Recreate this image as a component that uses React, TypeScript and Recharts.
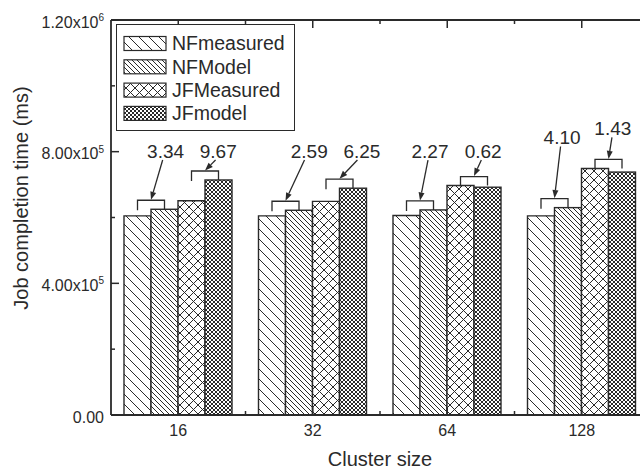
import React from 'react';
import { BarChart, Bar, XAxis, YAxis, Legend, ReferenceLine } from 'recharts';

// ---- data ----
const clusterSizes = ['16', '32', '64', '128'];
const nfMeasured = [605000, 605000, 606000, 605000];
const nfModel = [625000, 622000, 623000, 630000];
const jfMeasured = [651000, 649000, 697000, 749000];
const jfModel = [714000, 689000, 692000, 738000];
const nfErrorLabels = ['3.34', '2.59', '2.27', '4.10'];
const jfErrorLabels = ['9.67', '6.25', '0.62', '1.43'];
// value level (data units) where each error label sits
const nfLabelLevel = [802000, 802000, 802000, 843000];
const jfLabelLevel = [802000, 802000, 802000, 871000];
// horizontal shift of each error label, in bar widths
const nfLabelShift = [0.54, 0.88, 0.37, 0.28];
const jfLabelShift = [0.49, 0.83, 0.34, 0.16];
const yTicks = [0, 200000, 400000, 600000, 800000, 1000000, 1200000];
const seriesNames = ['NFmeasured', 'NFModel', 'JFMeasured', 'JFmodel'];

const data = clusterSizes.map((s, i) => ({
  size: s,
  NFmeasured: nfMeasured[i],
  NFModel: nfModel[i],
  JFMeasured: jfMeasured[i],
  JFmodel: jfModel[i],
}));

// ---- layout ----
const W = 660;
const H = 471;
const M_TOP = 20;
const M_RIGHT = 11;
const Y_AXIS_W = 111;
const X_AXIS_H = 56;
const PLOT_W = W - Y_AXIS_W - M_RIGHT;
const BAND = PLOT_W / clusterSizes.length;
const INK = '#2a2a2a';
const FONT = '"Liberation Sans", Arial, sans-serif';

const patternSpecs = [
  { key: 'NFmeasured', p: 10, cross: false },
  { key: 'NFModel', p: 5, cross: false },
  { key: 'JFMeasured', p: 9, cross: true },
  { key: 'JFmodel', p: 4, cross: true },
];

const Patterns = ({ prefix }: { prefix: string }) => (
  <defs>
    {patternSpecs.map((s) => {
      const p = s.p;
      return (
        <pattern key={s.key} id={prefix + s.key} patternUnits="userSpaceOnUse" width={p} height={p}>
          <rect width={p} height={p} fill="#fff" />
          <path
            d={`M0,0L${p},${p}M-1,${p - 1}L1,${p + 1}M${p - 1},-1L${p + 1},1`}
            stroke={INK}
            strokeWidth={1}
            fill="none"
          />
          {s.cross && (
            <path
              d={`M0,${p}L${p},0M-1,1L1,-1M${p - 1},${p + 1}L${p + 1},${p - 1}`}
              stroke={INK}
              strokeWidth={1}
              fill="none"
            />
          )}
        </pattern>
      );
    })}
  </defs>
);

const Arrow = ({ sx, sy, ex, ey }: { sx: number; sy: number; ex: number; ey: number }) => {
  const dx = ex - sx;
  const dy = ey - sy;
  const len = Math.hypot(dx, dy) || 1;
  const ux = dx / len;
  const uy = dy / len;
  const hl = 8;
  const hw = 3;
  const bx = ex - ux * hl;
  const by = ey - uy * hl;
  const pts = `${ex},${ey} ${bx - uy * hw},${by + ux * hw} ${bx + uy * hw},${by - ux * hw}`;
  return (
    <g>
      <line x1={sx} y1={sy} x2={bx} y2={by} stroke={INK} strokeWidth={1.3} />
      <polygon points={pts} fill={INK} />
    </g>
  );
};

function annotatedShape(
  pairVals: number[],
  ownVals: number[],
  texts: string[],
  levels: number[],
  shifts: number[]
) {
  return (props: any) => {
    const { x, y, width, height, index, fill, stroke, strokeWidth } = props;
    const rect = (
      <rect x={x} y={y} width={width} height={height} fill={fill} stroke={stroke} strokeWidth={strokeWidth} />
    );
    const v = ownVals[index];
    if (!height || !v) return rect;
    const bottom = y + height;
    const k = height / v;
    const otherTop = bottom - pairVals[index] * k;
    const top = Math.min(y, otherTop);
    const bY = top - 9;
    const cx = x;
    const x1 = x - width / 2;
    const x2 = x + width / 2;
    const tx = cx + shifts[index] * width;
    const tcy = bottom - levels[index] * k;
    return (
      <g>
        {rect}
        <path
          d={`M${x1},${bY + 10}L${x1},${bY}L${x2},${bY}L${x2},${bY + 9}`}
          stroke={INK}
          strokeWidth={1.3}
          fill="none"
        />
        <Arrow sx={tx + (cx - tx) * 0.2} sy={tcy + 9} ex={cx} ey={bY - 0.5} />
        <text x={tx} y={tcy + 6.7} textAnchor="middle" fontSize={19} fontFamily={FONT} fill={INK}>
          {texts[index]}
        </text>
      </g>
    );
  };
}

const nfModelShape = annotatedShape(nfMeasured, nfModel, nfErrorLabels, nfLabelLevel, nfLabelShift);
const jfModelShape = annotatedShape(jfMeasured, jfModel, jfErrorLabels, jfLabelLevel, jfLabelShift);

const XTick = (props: any) => {
  const { x, y, payload, index } = props;
  const left = x - BAND / 2;
  return (
    <g>
      <line x1={x} y1={y} x2={x} y2={y - 8} stroke={INK} strokeWidth={1.5} />
      {index > 0 && <line x1={left} y1={y} x2={left} y2={y - 4} stroke={INK} strokeWidth={1.5} />}
      <line x1={x} y1={M_TOP} x2={x} y2={M_TOP + 8} stroke={INK} strokeWidth={1.5} />
      {index > 0 && <line x1={left} y1={M_TOP} x2={left} y2={M_TOP + 4} stroke={INK} strokeWidth={1.5} />}
      <text x={x} y={y + 20.7} textAnchor="middle" fontSize={16} fontFamily={FONT} fill={INK}>
        {payload.value}
      </text>
    </g>
  );
};

const YTick = (props: any) => {
  const { x, y, payload } = props;
  const v = payload.value as number;
  const major = v % 400000 === 0;
  let main = '0.00';
  let sup = '';
  if (v > 0) {
    const e = Math.floor(Math.log10(v));
    main = (v / Math.pow(10, e)).toFixed(2) + 'x10';
    sup = String(e);
  }
  return (
    <g>
      <line x1={x} y1={y} x2={x + (major ? 8 : 4)} y2={y} stroke={INK} strokeWidth={1.5} />
      {major && (
        <text x={x - 7} y={y + 7.5} textAnchor="end" fontSize={16} fontFamily={FONT} fill={INK}>
          {main}
          {sup && (
            <tspan fontSize={10} dy={-6.5}>
              {sup}
            </tspan>
          )}
        </text>
      )}
    </g>
  );
};

const LegendBox = () => {
  const rowH = 23.3;
  return (
    <div
      style={{
        width: 177,
        height: 105,
        border: `1.5px solid ${INK}`,
        background: '#fff',
        boxSizing: 'content-box',
      }}
    >
      <svg width={177} height={105} style={{ display: 'block' }}>
        <Patterns prefix="lg-" />
        {seriesNames.map((n, i) => {
          const cy = 18.5 + i * rowH;
          return (
            <g key={n}>
              <rect
                x={7}
                y={cy - 7}
                width={42}
                height={14}
                fill={`url(#lg-${n})`}
                stroke={INK}
                strokeWidth={1.2}
              />
              <text x={55} y={cy + 6.8} fontSize={19.5} fontFamily={FONT} fill={INK}>
                {n}
              </text>
            </g>
          );
        })}
      </svg>
    </div>
  );
};

export default function App() {
  return (
    <div style={{ position: 'absolute', left: 0, top: 0, width: 640, height: 471, overflow: 'hidden', background: '#fff' }}>
      <BarChart
        width={W}
        height={H}
        data={data}
        margin={{ top: M_TOP, right: M_RIGHT, bottom: 0, left: 0 }}
        barGap={0}
        barSize={27}
      >
        <Patterns prefix="pt-" />
        <XAxis
          dataKey="size"
          height={X_AXIS_H}
          interval={0}
          tickSize={0}
          tickMargin={0}
          tickLine={false}
          tick={XTick}
          axisLine={{ stroke: INK, strokeWidth: 1.8 }}
          label={(p: any) => {
            const vb = p.viewBox || { x: Y_AXIS_W, y: H - X_AXIS_H, width: PLOT_W, height: X_AXIS_H };
            return (
              <text x={vb.x + vb.width / 2} y={vb.y + 51} textAnchor="middle" fontSize={20} fontFamily={FONT} fill={INK}>
                Cluster size
              </text>
            );
          }}
        />
        <YAxis
          width={Y_AXIS_W}
          domain={[0, 1200000]}
          ticks={yTicks}
          interval={0}
          tickSize={0}
          tickMargin={0}
          tickLine={false}
          tick={YTick}
          axisLine={{ stroke: INK, strokeWidth: 1.8 }}
          label={(p: any) => {
            const vb = p.viewBox || { x: 0, y: M_TOP, width: Y_AXIS_W, height: H - M_TOP - X_AXIS_H };
            const lx = vb.x + 27.5;
            const ly = vb.y + vb.height / 2 - 19.5;
            return (
              <text
                x={lx}
                y={ly}
                transform={`rotate(-90 ${lx} ${ly})`}
                textAnchor="middle"
                fontSize={20}
                fontFamily={FONT}
                fill={INK}
              >
                Job completion time (ms)
              </text>
            );
          }}
        />
        <ReferenceLine y={1200000} stroke={INK} strokeWidth={1.8} />
        <Legend
          layout="vertical"
          align="center"
          verticalAlign="middle"
          content={() => <LegendBox />}
          wrapperStyle={{ position: 'absolute', left: 116, top: 24, width: 180, height: 108 }}
        />
        <Bar dataKey="NFmeasured" fill="url(#pt-NFmeasured)" stroke={INK} strokeWidth={1.4} isAnimationActive={false} />
        <Bar
          dataKey="NFModel"
          fill="url(#pt-NFModel)"
          stroke={INK}
          strokeWidth={1.4}
          isAnimationActive={false}
          shape={nfModelShape}
        />
        <Bar dataKey="JFMeasured" fill="url(#pt-JFMeasured)" stroke={INK} strokeWidth={1.4} isAnimationActive={false} />
        <Bar
          dataKey="JFmodel"
          fill="url(#pt-JFmodel)"
          stroke={INK}
          strokeWidth={1.4}
          isAnimationActive={false}
          shape={jfModelShape}
        />
      </BarChart>
    </div>
  );
}
